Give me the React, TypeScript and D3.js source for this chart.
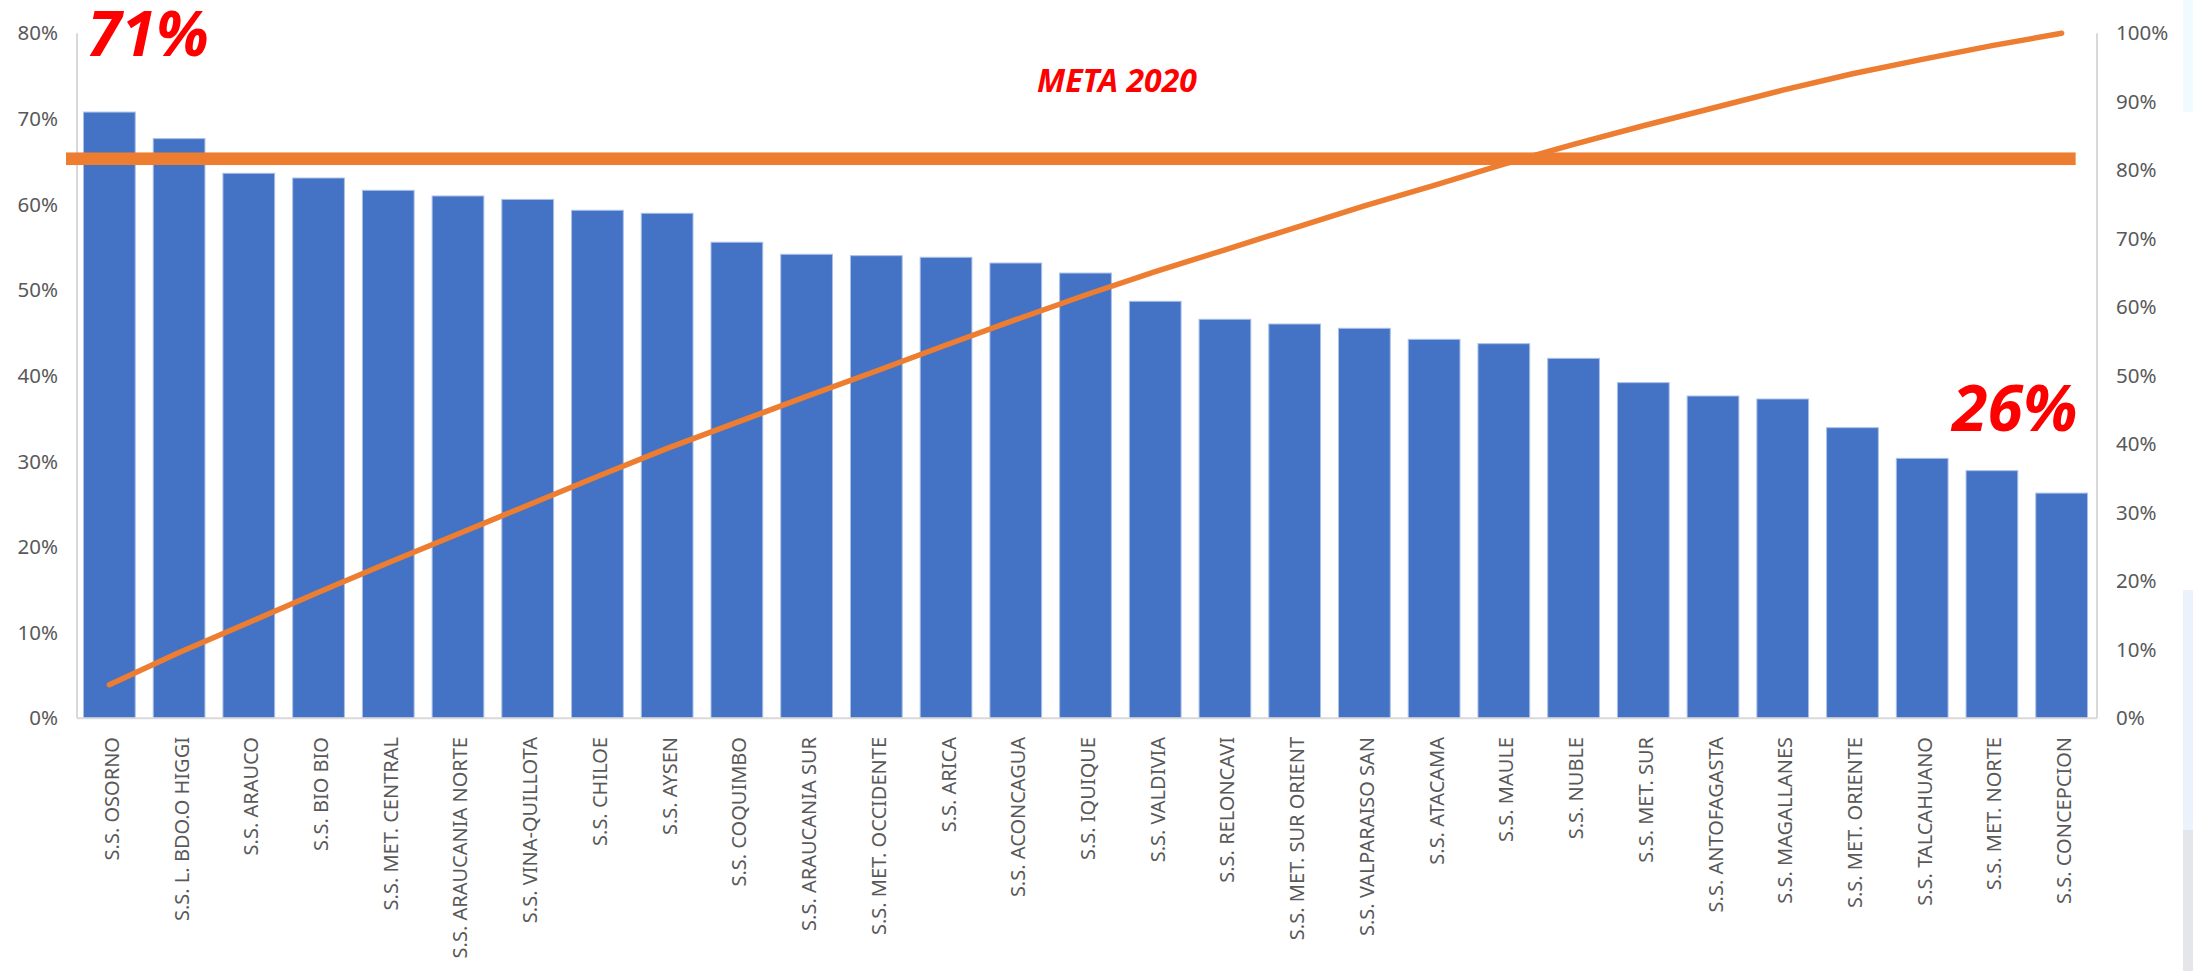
import React from "react";
import * as d3 from "d3";

const categories = [
  "S.S. OSORNO", "S.S. L. BDO.O HIGGI", "S.S. ARAUCO", "S.S. BIO BIO", "S.S. MET. CENTRAL",
  "S.S. ARAUCANIA NORTE", "S.S. VINA-QUILLOTA", "S.S. CHILOE", "S.S. AYSEN", "S.S. COQUIMBO",
  "S.S. ARAUCANIA SUR", "S.S. MET. OCCIDENTE", "S.S. ARICA", "S.S. ACONCAGUA", "S.S. IQUIQUE",
  "S.S. VALDIVIA", "S.S. RELONCAVI", "S.S. MET. SUR ORIENT", "S.S. VALPARAISO SAN", "S.S. ATACAMA",
  "S.S. MAULE", "S.S. NUBLE", "S.S. MET. SUR", "S.S. ANTOFAGASTA", "S.S. MAGALLANES",
  "S.S. MET. ORIENTE", "S.S. TALCAHUANO", "S.S. MET. NORTE", "S.S. CONCEPCION",
];

// bar values (% , left axis)
const barValues = [
  70.8, 67.7, 63.65, 63.1, 61.66, 61.0, 60.6, 59.33, 58.98, 55.6,
  54.19, 54.03, 53.84, 53.17, 52.0, 48.7, 46.6, 46.05, 45.55, 44.26,
  43.75, 42.04, 39.2, 37.64, 37.29, 33.94, 30.36, 28.92, 26.3,
];

// cumulative line values (% , right axis)
const lineValues = [
  4.9, 9.6, 14.0, 18.4, 22.7, 26.9, 31.1, 35.3, 39.4, 43.2,
  47.0, 50.7, 54.5, 58.2, 61.8, 65.2, 68.4, 71.6, 74.8, 77.8,
  80.9, 83.8, 86.5, 89.1, 91.7, 94.1, 96.2, 98.2, 100.0,
];

const leftTicks = [0, 10, 20, 30, 40, 50, 60, 70, 80];
const rightTicks = [0, 10, 20, 30, 40, 50, 60, 70, 80, 90, 100];
const metaValue = 65.35; // on left axis
const metaLabel = "META 2020";
const firstLabel = "71%";
const lastLabel = "26%";

const W = 2193;
const H = 971;
const plotTop = 33.3;
const plotBottom = 718.3;
const axisLeft = 77;
const axisRight = 2097;

export default function App() {
  const x = d3
    .scaleBand<string>()
    .domain(categories)
    .range([74.5, 2096.5])
    .paddingInner(0.258)
    .paddingOuter(0.129);
  const yL = d3.scaleLinear().domain([0, 80]).range([plotBottom, plotTop]);
  const yR = d3.scaleLinear().domain([0, 100]).range([plotBottom, plotTop]);
  const cx = (c: string) => (x(c) as number) + x.bandwidth() / 2;

  const line = d3
    .line<number>()
    .x((_, i) => cx(categories[i]))
    .y((d) => yR(d));

  const font = "'Noto Sans', 'DejaVu Sans', sans-serif";
  const lastC = cx(categories[categories.length - 1]);

  return (
    <svg
      width={W}
      height={H}
      style={{ position: "absolute", left: 0, top: 0, background: "#fff" }}
      fontFamily={font}
    >
      <rect x={0} y={0} width={W} height={H} fill="#ffffff" />
      {/* right-edge artifacts */}
      <rect x={2183} y={0} width={10} height={112} fill="#F1FAFE" />
      <rect x={2183} y={590} width={10} height={240} fill="#EBF2FB" />
      <rect x={2183} y={830} width={10} height={141} fill="#E4E6EA" />

      {/* axes lines */}
      <line x1={axisLeft} x2={axisLeft} y1={plotTop} y2={plotBottom} stroke="#D9D9D9" strokeWidth={2} />
      <line x1={axisRight} x2={axisRight} y1={plotTop} y2={plotBottom} stroke="#D9D9D9" strokeWidth={2} />

      {/* bars */}
      {categories.map((c, i) => (
        <rect
          key={c}
          x={x(c)}
          y={yL(barValues[i])}
          width={x.bandwidth()}
          height={yL(0) - yL(barValues[i])}
          fill="#4472C4"
          stroke="#A9C0E8"
          strokeWidth={1}
        />
      ))}

      <line x1={axisLeft} x2={axisRight} y1={plotBottom} y2={plotBottom} stroke="#D9D9D9" strokeWidth={2} />

      {/* cumulative line */}
      <path
        d={line(lineValues) || ""}
        fill="none"
        stroke="#ED7D31"
        strokeWidth={5.5}
        strokeLinecap="round"
        strokeLinejoin="round"
      />

      {/* meta line */}
      <rect
        x={axisLeft - 11}
        y={yL(metaValue) - 6.3}
        width={lastC + 14 - (axisLeft - 11)}
        height={12.6}
        fill="#ED7D31"
      />

      {/* left ticks */}
      {leftTicks.map((t) => (
        <text
          key={"l" + t}
          x={58}
          y={yL(t)}
          dy="0.35em"
          textAnchor="end"
          fontSize={20.5}
          fill="#595959"
        >
          {t + "%"}
        </text>
      ))}
      {/* right ticks */}
      {rightTicks.map((t) => (
        <text
          key={"r" + t}
          x={2116}
          y={yR(t)}
          dy="0.35em"
          textAnchor="start"
          fontSize={20.5}
          fill="#595959"
        >
          {t + "%"}
        </text>
      ))}

      {/* category labels */}
      {categories.map((c) => (
        <text
          key={"c" + c}
          transform={`translate(${cx(c) + 2.5},737) rotate(-90)`}
          dy="0.35em"
          textAnchor="end"
          fontSize={20}
          fill="#595959"
        >
          {c}
        </text>
      ))}

      {/* annotations */}
      <text
        x={cx(categories[0]) - 22}
        y={56}
        fontSize={62}
        fontWeight="bold"
        fontStyle="italic"
        fill="#FF0000"
      >
        {firstLabel}
      </text>
      <text
        x={lastC + 16}
        y={431}
        textAnchor="end"
        fontSize={64}
        fontWeight="bold"
        fontStyle="italic"
        fill="#FF0000"
      >
        {lastLabel}
      </text>
      <text
        x={1117}
        y={92}
        textAnchor="middle"
        fontSize={32}
        fontWeight="bold"
        fontStyle="italic"
        fill="#FF0000"
      >
        {metaLabel}
      </text>
    </svg>
  );
}
